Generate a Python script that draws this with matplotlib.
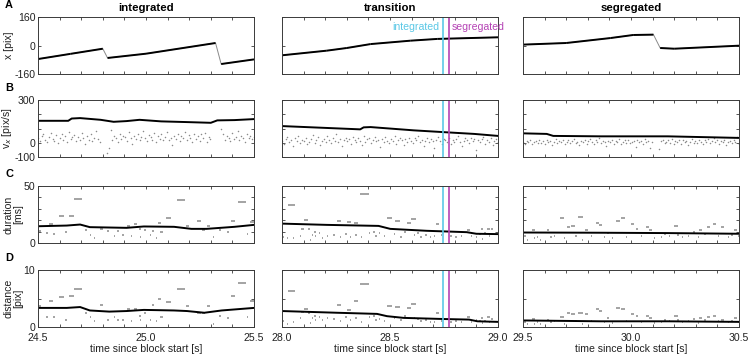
import numpy as np
import matplotlib
matplotlib.use("Agg")
import matplotlib.pyplot as plt

plt.rcParams["font.family"] = ["Liberation Sans", "DejaVu Sans"]

# ── Data ────────────────────────────────────────────────────────────────
COLUMNS = ["integrated", "transition", "segregated"]
ROW_LETTERS = ["A", "B", "C", "D"]
YLABELS = ["x [pix]", "v$_x$ [pix/s]", "duration\n[ms]", "distance\n[pix]"]
XLIMS = [(24.5, 25.5), (28.0, 29.0), (29.5, 30.5)]
XLABEL = "time since block start [s]"

YTICKS = [[-160, 0, 160], [-100, 0, 100, 200, 300], [0, 10, 20, 30, 40, 50], [0, 5, 10]]
YTICKLABELS = [["-160", "0", "160"], ["-100", "0", "", "", "300"],
               ["0", "", "", "", "", "50"], ["0", "", "10"]]

# switch times in the transition block
T_INTEGRATED = 28.745
T_SEGREGATED = 28.775

# row A: eye position (knots), index of segments that are saccades
pos_t = [
    [24.5, 24.65, 24.80, 24.822, 25.0, 25.322, 25.348, 25.5],
    [28.0, 28.207, 28.30, 28.41, 28.594, 28.72, 29.0],
    [29.5, 29.70, 29.906, 30.01, 30.104, 30.135, 30.2, 30.5],
]
pos_x = [
    [-76, -47, -18, -70, -46, 14, -104, -78],
    [-55, -29, -14, 8, 27, 37, 46],
    [5, 14, 42, 59, 61, -14, -18, -1],
]
pos_sacc = [[2, 5], [], [4]]

# row B: smoothed velocity (knots)
vel_t = [
    [24.5, 24.64, 24.656, 24.695, 24.79, 24.85, 24.91, 24.97, 25.07, 25.19, 25.30, 25.33, 25.41, 25.5],
    [28.0, 28.362, 28.378, 28.41, 28.61, 28.765, 28.89, 29.0],
    [29.5, 29.61, 29.64, 29.86, 30.17, 30.5],
]
vel_v = [
    [154, 154, 170, 173, 161, 147, 152, 161, 150, 145, 140, 157, 159, 166],
    [117, 94, 108, 110, 87, 73, 62, 48],
    [66, 62, 48, 45, 45, 34],
]

# row B: raw velocity samples (evenly sampled, nan = saccade)
nan = np.nan
raw_v = [
    [35, 12, 48, 60, 22, 5, 40, 70, 28, 15, 52, -5,
     30, 62, 18, 44, 8, 75, 25, 38, 55, 10, 42, 20,
     66, 30, -12, 48, 22, 58, 14, 36, 80, 26, 4, nan,
     nan, nan, -70, -40, 90, 20, 50, 32, 8, 62, 28, 45,
     40, 15, 72, 35, -8, 50, 24, 60, 18, 42, 85, 30,
     10, 55, 38, 22, 68, 5, 45, 28, 58, 16, 40, 74,
     20, 34, -15, 50, 26, 62, 12, 44, 30, 78, 18, 52,
     36, 8, 64, 24, 46, 14, 58, 32, 70, 6, 40, 26,
     nan, nan, nan, nan, nan, 95, 60, 22, 48, 35, 12, 66,
     28, 42, 80, 18, 50, 36, 4, 62, 30, 45, 24, 38],
    [12, -8, 25, 40, 5, 18, -20, 30, 10, 48, -2, 22,
     15, 35, -12, 8, 28, 52, 0, 20, 38, -15, 14, 26,
     6, 44, 18, -5, 32, 12, 58, 2, 24, -25, 16, 36,
     10, 28, -10, 42, 20, 4, 30, 15, -18, 50, 8, 25,
     34, -4, 18, 40, 12, 22, -30, 26, 6, 38, 14, 0,
     28, 10, 46, -8, 20, 32, 16, -14, 24, 8, 36, 12,
     -2, 30, 18, 44, 6, 22, -20, 14, 34, 4, 26, 10,
     -40, 20, 40, 12, -6, 28, 16, 2, 32, -12, 18, 8,
     24, 50, 6, -22, 14, 30, 20, -4, 36, 10, 26, -50,
     16, 4, 28, 42, -10, 20, 8, 34, -18, 14, 24, 2],
    [8, -6, 15, 2, 20, -10, 5, 12, -2, 18, 0, 10,
     -8, 22, 4, 14, -14, 6, 25, -4, 10, 2, 16, -12,
     6, 20, -2, 12, 28, 0, 8, -18, 14, 4, 18, -6,
     10, 24, 2, -10, 16, 6, 30, -2, 12, 8, -20, 14,
     4, 20, -6, 10, 2, 26, -12, 8, 16, 0, 22, -4,
     6, 12, -30, 18, 4, 10, -8, 24, 2, 14, -38, 6,
     nan, nan, nan, -45, 12, 20, -4, 8, 16, 0, 26, -10,
     10, 4, 18, -6, 22, 2, 12, -14, 8, 28, 0, 14,
     -4, 20, 6, -10, 16, 4, 24, -2, 10, 32, 2, 18,
     -8, 12, 6, 22, -16, 8, 14, 0, 20, 4, 40, -6],
]

# rows C/D: smoothed duration and distance (knots)
dur_t = [
    [24.5, 24.633, 24.695, 24.74, 24.91, 24.99, 25.13, 25.21, 25.28, 25.41, 25.5],
    [28.0, 28.207, 28.447, 28.501, 28.67, 28.855, 28.9, 29.0],
    [29.5, 29.86, 30.17, 30.5],
]
dur_v = [
    [14.7, 15.3, 16.2, 13.9, 13.3, 14.5, 14.2, 12.4, 12.4, 14.2, 15.9],
    [17.0, 15.9, 15.0, 12.4, 10.7, 9.5, 8.1, 7.8],
    [9.2, 9.0, 8.7, 8.1],
]
dist_t = [
    [24.5, 24.633, 24.695, 24.74, 24.83, 24.91, 24.99, 25.13, 25.19, 25.27, 25.35, 25.5],
    [28.0, 28.254, 28.44, 28.486, 28.563, 28.749, 28.866, 28.905, 29.0],
    [29.5, 29.86, 30.17, 30.5],
]
dist_v = [
    [3.35, 3.35, 3.5, 2.9, 2.7, 2.8, 3.0, 2.9, 2.8, 2.5, 2.9, 3.35],
    [2.8, 2.5, 2.3, 1.9, 1.6, 1.4, 1.3, 1.0, 0.9],
    [1.15, 1.0, 1.0, 0.9],
]

# rows C/D: single events (start time [s], duration [ms], distance [pix])
ev_start = [
    [24.502, 24.537, 24.553, 24.571, 24.596, 24.625, 24.644, 24.667, 24.718, 24.721, 24.741,
     24.760, 24.788, 24.819, 24.850, 24.865, 24.889, 24.907, 24.912, 24.930, 24.943, 24.966,
     24.974, 24.989, 25.017, 25.028, 25.048, 25.054, 25.067, 25.082, 25.094, 25.128, 25.144,
     25.183, 25.237, 25.260, 25.283, 25.311, 25.337, 25.376, 25.392, 25.426, 25.466, 25.481],
    [28.006, 28.022, 28.028, 28.053, 28.084, 28.088, 28.102, 28.119, 28.130, 28.138, 28.146,
     28.153, 28.169, 28.186, 28.207, 28.238, 28.254, 28.269, 28.293, 28.303, 28.316, 28.334,
     28.339, 28.362, 28.365, 28.401, 28.421, 28.432, 28.447, 28.471, 28.486, 28.517, 28.525,
     28.548, 28.563, 28.579, 28.598, 28.610, 28.625, 28.641, 28.664, 28.687, 28.703, 28.711,
     28.734, 28.780, 28.803, 28.827, 28.850, 28.858, 28.873, 28.896, 28.912, 28.920, 28.927,
     28.935, 28.950, 28.958, 28.966],
    [29.506, 29.519, 29.542, 29.550, 29.565, 29.580, 29.611, 29.627, 29.642, 29.670, 29.689,
     29.704, 29.724, 29.743, 29.754, 29.774, 29.789, 29.813, 29.836, 29.851, 29.875, 29.890,
     29.913, 29.929, 29.952, 29.975, 29.998, 30.022, 30.045, 30.068, 30.084, 30.107, 30.138,
     30.153, 30.176, 30.200, 30.215, 30.238, 30.262, 30.285, 30.308, 30.316, 30.339, 30.354,
     30.378, 30.401, 30.416, 30.447, 30.463, 30.478, 30.494],
]
ev_dur = [
    [10.1, 8.7, 16.8, 8.1, 23.7, 9.5, 23.7, 38.7, 11.0, 2.3, 6.6,
     4.6, 12.4, 10.1, 6.1, 10.1, 7.2, 2.3, 14.7, 5.8, 16.8, 12.4,
     4.9, 11.0, 7.2, 10.1, 4.6, 17.6, 9.5, 3.2, 22.0, 3.8, 37.3,
     14.7, 19.1, 11.0, 15.3, 5.5, 11.0, 9.5, 19.1, 36.1, 8.1, 18.2],
    [4.9, 4.0, 33.0, 4.0, 6.0, 12.4, 20.5, 12.4, 3.0, 7.0, 10.0,
     5.8, 8.7, 4.3, 6.0, 7.2, 19.4, 5.0, 7.8, 18.2, 5.2, 17.3,
     7.0, 43.0, 5.0, 8.7, 9.5, 6.0, 8.7, 5.8, 21.7, 8.0, 19.4,
     5.5, 9.5, 17.3, 20.8, 7.2, 8.7, 5.0, 7.2, 5.0, 5.8, 16.5,
     7.2, 5.8, 5.0, 5.8, 3.0, 11.5, 6.4, 5.0, 7.8, 12.4, 3.8,
     8.7, 12.4, 5.8, 12.1],
    [6.0, 3.0, 11.5, 4.0, 5.0, 3.0, 11.0, 5.0, 6.0, 21.7, 4.0,
     13.6, 14.5, 6.0, 22.5, 3.0, 11.6, 6.0, 17.3, 15.9, 5.0, 9.0,
     4.0, 19.4, 22.3, 5.0, 16.5, 12.4, 6.0, 13.6, 11.0, 4.0, 5.0,
     8.0, 6.0, 15.3, 7.0, 5.0, 6.0, 10.0, 5.0, 11.0, 8.0, 13.6,
     16.5, 6.0, 13.6, 5.0, 7.0, 11.0, 6.0],
]
ev_dist = [
    [3.6, 1.7, 4.5, 1.7, 5.2, 1.3, 5.5, 6.6, 2.5, 1.5, 1.8,
     1.0, 3.8, 1.3, 1.8, 1.3, 1.2, 0.8, 3.2, 1.0, 3.2, 1.9,
     1.2, 2.5, 1.2, 3.8, 1.0, 5.0, 1.8, 0.75, 4.3, 0.8, 6.7,
     3.6, 2.5, 2.5, 3.6, 0.6, 1.9, 1.5, 5.4, 7.8, 1.7, 4.5],
    [1.0, 0.6, 6.4, 0.8, 1.6, 2.7, 3.2, 2.5, 0.7, 1.5, 2.0,
     1.2, 1.8, 1.3, 1.6, 1.4, 3.8, 1.1, 1.8, 2.9, 1.2, 4.6,
     1.6, 7.5, 0.8, 1.7, 1.9, 1.2, 1.4, 1.0, 3.6, 1.5, 3.5,
     1.2, 1.9, 3.3, 4.0, 1.6, 1.4, 1.0, 1.3, 0.9, 0.8, 2.4,
     1.1, 0.9, 1.0, 0.8, 0.5, 1.8, 0.9, 1.2, 1.0, 1.6, 0.7,
     1.1, 1.7, 0.9, 1.4],
    [0.8, 0.5, 1.4, 0.6, 0.9, 0.5, 1.3, 0.8, 1.1, 1.8, 0.6,
     2.5, 2.2, 1.0, 2.5, 0.5, 2.2, 1.1, 3.2, 2.8, 0.9, 1.5,
     0.7, 3.4, 3.2, 1.0, 2.2, 1.9, 0.8, 2.0, 1.5, 0.7, 0.9,
     1.2, 1.0, 1.9, 1.2, 0.8, 1.0, 1.4, 0.7, 1.6, 1.2, 1.7,
     1.9, 1.0, 1.3, 0.8, 1.1, 1.5, 0.9],
]

# ── Style ───────────────────────────────────────────────────────────────
CYAN = "#5bc8e6"
MAGENTA = "#b543b5"
GRAY = "#8a8a8a"
AXCOL = "#3a3a3a"
FS = 7.6

W, H = 748, 357
COL_LEFT = [38, 282, 523]
ROW_TOP = [17, 100, 186, 270]
AX_W, AX_H = 216, 57

fig = plt.figure(figsize=(W / 100, H / 100), dpi=100)


def make_ax(r, c):
    ax = fig.add_axes([COL_LEFT[c] / W, 1 - (ROW_TOP[r] + AX_H) / H, AX_W / W, AX_H / H])
    lo, hi = XLIMS[c]
    ax.set_xlim(lo, hi)
    ax.set_xticks(np.round(np.linspace(lo, hi, 11), 2))
    if r == 3:
        ax.set_xticklabels([f"{t:.1f}" if i % 5 == 0 else "" for i, t in
                            enumerate(np.linspace(lo, hi, 11))])
        ax.set_xlabel(XLABEL, fontsize=FS, labelpad=1, color="#222222")
    else:
        ax.set_xticklabels([])
    ax.set_ylim(YTICKS[r][0], YTICKS[r][-1])
    ax.set_yticks(YTICKS[r])
    if c == 0:
        ax.set_yticklabels(YTICKLABELS[r])
        ax.set_ylabel(YLABELS[r], fontsize=FS, labelpad=0.5, color="#222222",
                      linespacing=0.95)
    else:
        ax.set_yticklabels([])
    ax.tick_params(direction="in", top=True, right=True, length=2.5, width=0.6,
                   labelsize=FS, colors=AXCOL, labelcolor="#222222")
    ax.tick_params(axis="x", pad=4)
    ax.tick_params(axis="y", pad=2)
    for s in ax.spines.values():
        s.set_color(AXCOL)
        s.set_linewidth(0.7)
    return ax


for c in range(3):
    # A: position
    ax = make_ax(0, c)
    ax.plot(pos_t[c], pos_x[c], color=GRAY, lw=0.7)
    for i in range(len(pos_t[c]) - 1):
        if i not in pos_sacc[c]:
            ax.plot(pos_t[c][i:i + 2], pos_x[c][i:i + 2], color="black", lw=1.4,
                    solid_capstyle="butt")
    ax.set_title(COLUMNS[c], fontsize=FS + 0.6, fontweight="bold", pad=4)
    if c == 1:
        ax.text(T_INTEGRATED - 0.015, 105, "integrated", color=CYAN, fontsize=FS,
                ha="right", va="center")
        ax.text(T_SEGREGATED + 0.012, 105, "segregated", color=MAGENTA, fontsize=FS,
                ha="left", va="center")

    # B: velocity
    ax = make_ax(1, c)
    lo, hi = XLIMS[c]
    ax.plot(np.linspace(lo, hi, len(raw_v[c])), raw_v[c], ".", color=GRAY,
            ms=2.2, mew=0)
    ax.plot(vel_t[c], vel_v[c], color="black", lw=1.4)

    # C: duration, D: distance
    for r, vals, kt, kv in [(2, ev_dur, dur_t, dur_v), (3, ev_dist, dist_t, dist_v)]:
        ax = make_ax(r, c)
        t0 = np.array(ev_start[c])
        t1 = t0 + np.array(ev_dur[c]) / 1000
        ax.hlines(vals[c], t0, t1, color=GRAY, lw=1.1)
        ax.plot(kt[c], kv[c], color="black", lw=1.4)

    if c == 1:
        for ax in fig.axes[-4:]:
            ax.axvline(T_INTEGRATED, color=CYAN, lw=1.2)
            ax.axvline(T_SEGREGATED, color=MAGENTA, lw=1.2)

for r, letter in enumerate(ROW_LETTERS):
    fig.text(5 / W, 1 - (ROW_TOP[r] - 12) / H, letter, fontsize=FS + 0.3,
             fontweight="bold", va="center", ha="left")

fig.savefig("out.png", dpi=100)
